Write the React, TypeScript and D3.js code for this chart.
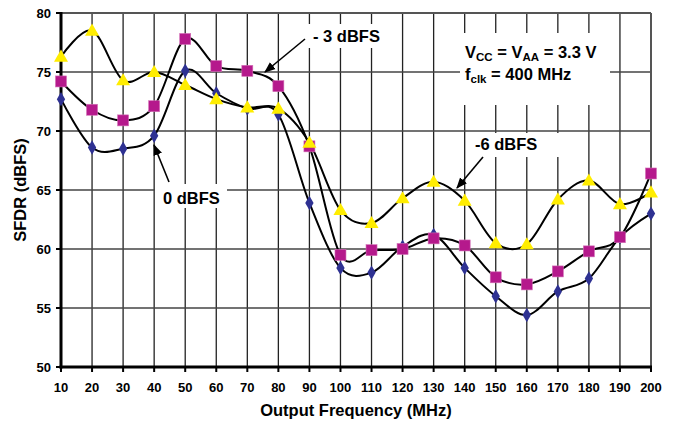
import React from 'react';
import * as d3 from 'd3';

const freqs = [10, 20, 30, 40, 50, 60, 70, 80, 90, 100, 110, 120, 130, 140, 150, 160, 170, 180, 190, 200];
const sfdr0 = [72.7, 68.6, 68.5, 69.6, 75.1, 73.2, 71.9, 71.4, 63.9, 58.4, 58.0, 60.2, 61.2, 58.4, 56.0, 54.4, 56.4, 57.5, 61.0, 63.0];
const sfdr3 = [74.2, 71.8, 70.9, 72.1, 77.8, 75.5, 75.1, 73.8, 68.7, 59.5, 59.9, 60.0, 60.9, 60.3, 57.6, 57.0, 58.1, 59.8, 61.0, 66.4];
const sfdr6 = [76.3, 78.5, 74.3, 75.0, 73.9, 72.7, 72.0, 71.9, 69.0, 63.3, 62.2, 64.3, 65.7, 64.1, 60.5, 60.4, 64.2, 65.8, 63.8, 64.8];
const yTicks = [50, 55, 60, 65, 70, 75, 80];

const W = 674;
const H = 426;
const margin = { left: 61, right: 23, top: 13, bottom: 59 };
const font = 'Liberation Sans, Arial, sans-serif';

const App = () => {
  const x = d3.scaleLinear().domain([10, 200]).range([margin.left, W - margin.right]);
  const y = d3.scaleLinear().domain([50, 80]).range([H - margin.bottom, margin.top]);

  const line = d3.line<number>()
    .x((_, i) => x(freqs[i]))
    .y(d => y(d))
    .curve(d3.curveCatmullRom.alpha(0));

  const x0 = x(10), x1 = x(200), yb = y(50), yt = y(80);

  const diamond = d3.symbol().type(d3.symbolDiamond).size(60)() as string;
  const triangle = d3.symbol().type(d3.symbolTriangle).size(85)() as string;

  return (
    <svg width={W} height={H} style={{ position: 'absolute', left: 0, top: 0, background: '#fff' }}>
      {/* grid */}
      {freqs.map(f => (
        <line key={'v' + f} x1={x(f)} x2={x(f)} y1={yt} y2={yb} stroke="#222" strokeWidth={1.3} />
      ))}
      {yTicks.map(t => (
        <line key={'h' + t} x1={x0} x2={x1} y1={y(t)} y2={y(t)} stroke="#444" strokeWidth={1.3} />
      ))}
      <line x1={x0} x2={x1} y1={yt} y2={yt} stroke="#555" strokeWidth={2} />
      <line x1={x1} x2={x1} y1={yt} y2={yb} stroke="#555" strokeWidth={2} />

      {/* label boxes hiding grid */}
      <rect x={460} y={33} width={150} height={72} fill="#fff" />
      <rect x={308} y={24} width={84} height={24} fill="#fff" />
      <rect x={466} y={133} width={102} height={24} fill="#fff" />
      <rect x={155} y={184} width={72} height={24} fill="#fff" />

      {/* curves */}
      {[sfdr0, sfdr3, sfdr6].map((s, i) => (
        <path key={i} d={line(s) as string} fill="none" stroke="#000" strokeWidth={2} />
      ))}

      {/* axes */}
      <line x1={x0} x2={x0} y1={yt - 1} y2={yb + 1.5} stroke="#000" strokeWidth={3} />
      <line x1={x0 - 1.5} x2={x1 + 1} y1={yb} y2={yb} stroke="#000" strokeWidth={3} />
      {yTicks.map(t => (
        <g key={'yt' + t}>
          <line x1={x0 - 5} x2={x0} y1={y(t)} y2={y(t)} stroke="#000" strokeWidth={2} />
          <text x={x0 - 10} y={y(t)} dy="0.35em" textAnchor="end" fontFamily={font} fontWeight="bold" fontSize={13}>{t}</text>
        </g>
      ))}
      {freqs.map(f => (
        <g key={'xt' + f}>
          <line x1={x(f)} x2={x(f)} y1={yb} y2={yb + 5} stroke="#000" strokeWidth={2} />
          <text x={x(f)} y={yb + 20} dy="0.35em" textAnchor="middle" fontFamily={font} fontWeight="bold" fontSize={13}>{f}</text>
        </g>
      ))}
      <text x={356} y={416} textAnchor="middle" fontFamily={font} fontWeight="bold" fontSize={16.5}>Output Frequency (MHz)</text>
      <text transform={`translate(26,${(yt + yb) / 2}) rotate(-90)`} textAnchor="middle" fontFamily={font} fontWeight="bold" fontSize={16.5}>SFDR (dBFS)</text>

      {/* markers */}
      {sfdr0.map((v, i) => (
        <path key={'d' + i} d={diamond} transform={`translate(${x(freqs[i])},${y(v)})`} fill="#2E3192" />
      ))}
      {sfdr3.map((v, i) => (
        <rect key={'s' + i} x={x(freqs[i]) - 5.5} y={y(v) - 5.5} width={11} height={11} fill="#B5198C" stroke="#d36fb6" strokeWidth={0.6} />
      ))}
      {sfdr6.map((v, i) => (
        <path key={'t' + i} d={triangle} transform={`translate(${x(freqs[i])},${y(v) + 1})`} fill="#FFED00" />
      ))}

      {/* annotations */}
      <defs>
        <marker id="arr" viewBox="0 0 10 10" refX="9" refY="5" markerWidth="7" markerHeight="7" orient="auto">
          <path d="M0,1 L10,5 L0,9 z" fill="#000" />
        </marker>
      </defs>
      <g fontFamily={font} fontWeight="bold" fontSize={16.5}>
        <text x={313} y={42}>- 3 dBFS</text>
        <line x1={305} y1={39} x2={265} y2={72} stroke="#000" strokeWidth={1.6} markerEnd="url(#arr)" />
        <text x={475} y={150}>-6 dBFS</text>
        <line x1={483} y1={157} x2={457} y2={188} stroke="#000" strokeWidth={1.6} markerEnd="url(#arr)" />
        <text x={163} y={204}>0 dBFS</text>
        <line x1={169} y1={182} x2={154} y2={145} stroke="#000" strokeWidth={1.6} markerEnd="url(#arr)" />
        <text x={465} y={58}>
          V<tspan fontSize={11.5} dy={3}>CC</tspan><tspan dy={-3}> = V</tspan><tspan fontSize={11.5} dy={3}>AA</tspan><tspan dy={-3}> = 3.3 V</tspan>
        </text>
        <text x={465} y={80}>
          f<tspan fontSize={11.5} dy={3}>clk</tspan><tspan dy={-3}> = 400 MHz</tspan>
        </text>
      </g>
    </svg>
  );
};

export default App;
